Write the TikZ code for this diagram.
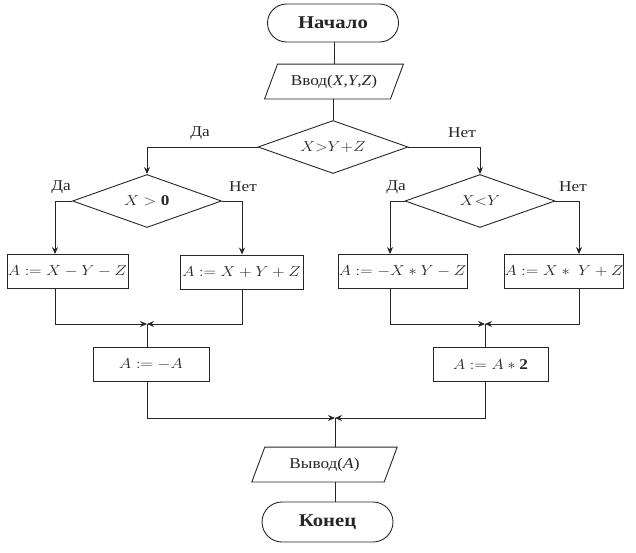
\documentclass[tikz,border=0pt]{standalone}
\usepackage{fontspec}
\setmainfont{Liberation Serif}
\usepackage{graphicx}
\usetikzlibrary{shapes.geometric,arrows.meta}
\newcommand\wx[1]{\scalebox{1.15}[1]{#1}}
\begin{document}
\begin{tikzpicture}[x=1pt,y=-1pt,line width=0.9pt,color=black!85,
  term/.style={draw,rectangle,rounded corners=19pt,minimum width=131pt,minimum height=38pt,inner sep=0pt,font=\fontsize{18}{20}\selectfont\bfseries},
  proc/.style={draw,rectangle,minimum height=34pt,inner sep=0pt,font=\fontsize{15}{17}\selectfont},
  dec/.style={draw,diamond,aspect=2.8,inner sep=0pt,minimum width=150pt,minimum height=53pt,font=\fontsize{15}{17}\selectfont},
  io/.style={rectangle,inner sep=0pt,minimum height=34pt,font=\fontsize{15}{17}\selectfont},
  lbl/.style={inner sep=0pt,font=\fontsize{15}{17}\selectfont},
  arr/.style={-{Stealth[length=7pt,width=6pt]}}]
\useasboundingbox (0,0) rectangle (636,552);

% nodes
\node[term] (start) at (333,23) {\wx{Начало}};
\node[io,minimum width=125pt] (in) at (334,81.5) {\wx{Ввод(\textit{X},\textit{Y},\textit{Z})}};
\draw ([xshift=6.5pt]in.north west) -- ([xshift=6.5pt]in.north east) -- ([xshift=-6.5pt]in.south east) -- ([xshift=-6.5pt]in.south west) -- cycle;
\node[dec] (d1) at (333,147) {\wx{$X{>}Y{+}Z$}};
\node[dec,minimum width=149pt] (d2) at (147,201) {\wx{$X>\mathbf{0}$}};
\node[dec] (d3) at (480,201) {\wx{$X{<}Y$}};

\node[proc,minimum width=121pt] (b1) at (67.5,271.5) {\wx{$A:=X-Y-Z$}};
\node[proc,minimum width=123pt] (b2) at (241.5,272) {\wx{$A:=X+Y+Z$}};
\node[proc,minimum width=129pt] (b3) at (402.5,271.5) {\wx{$A:=-X\ast Y-Z$}};
\node[proc,minimum width=118pt] (b4) at (564,271.5) {\wx{$A:=X\ast\;Y+Z$}};

\node[proc,minimum width=116pt] (b5) at (151,364.5) {\wx{$A:=-A$}};
\node[proc,minimum width=115pt] (b6) at (490.5,364.5) {\wx{$A:=A\ast\mathbf{2}$}};

\node[io,minimum width=131.5pt] (out) at (324.5,464.5) {\wx{Вывод(\textit{A})}};
\draw ([xshift=6.5pt]out.north west) -- ([xshift=6.5pt]out.north east) -- ([xshift=-6.5pt]out.south east) -- ([xshift=-6.5pt]out.south west) -- cycle;
\node[term,minimum height=40pt,rounded corners=20pt] (end) at (327.5,522) {\wx{Конец}};

% labels
\node[lbl] (l1) at (200,133) {\wx{Да}};
\node[lbl] (l2) at (462,133) {\wx{Нет}};
\node[lbl] (l3) at (61,187) {\wx{Да}};
\node[lbl] (l4) at (243,187) {\wx{Нет}};
\node[lbl] (l5) at (396,187) {\wx{Да}};
\node[lbl] (l6) at (573,187) {\wx{Нет}};

% coordinates
\coordinate (c1) at (55,0);
\coordinate (c2) at (242,0);
\coordinate (c3) at (390,0);
\coordinate (c4) at (579,0);
\coordinate (m1) at (147,324);
\coordinate (m2) at (485,324);
\coordinate (m3) at (335,418);

% connectors
\draw (start.south -| in.north) -- (in.north);
\draw (in.south -| d1.north) -- (d1.north);
\draw[arr] (d1.west) -| (d2.north);
\draw[arr] (d1.east) -| (d3.north);
\draw[arr] (d2.west) -| (b1.north -| c1);
\draw[arr] (d2.east) -| (b2.north -| c2);
\draw[arr] (d3.west) -| (b3.north -| c3);
\draw[arr] (d3.east) -| (b4.north -| c4);
\draw[arr] (b1.south -| c1) |- (m1);
\draw[arr] (b2.south -| c2) |- (m1);
\draw[arr] (b3.south -| c3) |- (m2);
\draw[arr] (b4.south -| c4) |- (m2);
\draw (m1) -- (b5.north -| m1);
\draw (m2) -- (b6.north -| m2);
\draw[arr] (b5.south -| m1) |- (m3);
\draw[arr] (b6.south -| m2) |- (m3);
\draw (m3) -- (out.north -| m3);
\draw (out.south -| m3) -- (end.north -| m3);
\end{tikzpicture}
\end{document}
